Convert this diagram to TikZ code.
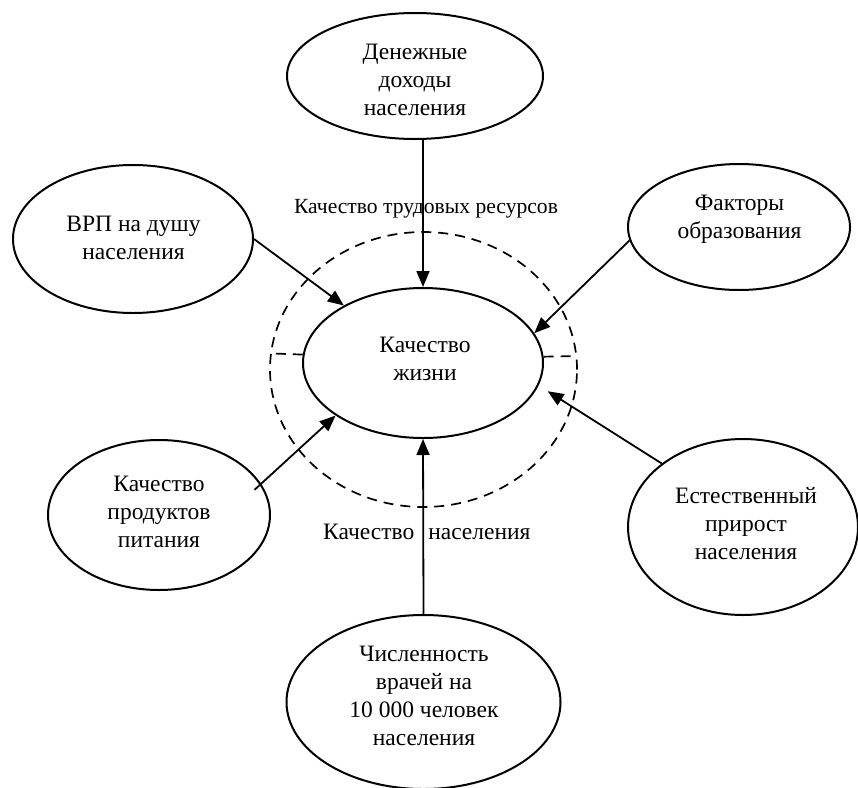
\documentclass[tikz,border=0pt]{standalone}
\usepackage{fontspec}
\setmainfont{Liberation Serif}
\usetikzlibrary{arrows.meta,shapes.geometric}
\begin{document}
\begin{tikzpicture}[x=1pt,y=-1pt,
  ell/.style={ellipse, draw, line width=2pt, inner sep=0pt},
  txt/.style={align=center, font=\fontsize{23.5pt}{28pt}\selectfont, inner sep=0pt},
  lbl/.style={inner sep=0pt},
  arr/.style={line width=1.8pt, -{Triangle[length=16pt,width=13pt]}},
  dline/.style={line width=1.7pt, dash pattern=on 10pt off 7pt}]
\useasboundingbox (0,0) rectangle (858,787);
% dashed ring
\node[ellipse, draw, dline, inner sep=0pt, minimum width=307pt, minimum height=275pt] (ring) at (423.5,369.5) {};
% ellipses
\node[ell, minimum width=256pt, minimum height=126pt] (t) at (415,76) {};
\node[ell, minimum width=240pt, minimum height=148pt] (a) at (133,239) {};
\node[ell, minimum width=222pt, minimum height=126pt] (f) at (739,227) {};
\node[ell, minimum width=240pt, minimum height=150pt] (c) at (423,363) {};
\node[ell, minimum width=222pt, minimum height=150pt] (p) at (159,515) {};
\node[ell, minimum width=230pt, minimum height=176pt] (e) at (743,527) {};
\node[ell, minimum width=274pt, minimum height=174pt] (b) at (423.5,702) {};
% texts
\node[txt] (tt) at (415,80) {Денежные\\доходы\\населения};
\node[txt] (at) at (133.5,237.5) {ВРП на душу\\населения};
\node[txt] (ft) at (739.5,219) {Факторы\\образования};
\node[txt] (ct) at (425,359) {Качество\\жизни};
\node[txt] (pt) at (159,512) {Качество\\продуктов\\питания};
\node[txt] (et) at (746,523.5) {Естественный\\прирост\\населения};
\node[txt] (bt) at (424,696) {Численность\\врачей на\\10 000 человек\\населения};
% labels
\node[lbl, font=\fontsize{21.6pt}{26pt}\selectfont, anchor=base] (l1) at (426,213) {Качество трудовых ресурсов};
\node[lbl, font=\fontsize{23.5pt}{28pt}\selectfont, anchor=base west] (l2) at (323,539) {Качество\hspace{14pt}населения};
% dashed dividers
\draw[dline] (c.176.65) -- (ring.174.95);
\draw[dline] (c.3.35) -- (ring.5.05);
% arrows
\draw[arr] (t.south -| c.north) -- (c.north);
\draw[arr] (a.east) -- (c.144.4);
\draw[arr] (f.187) -- (c.15.5);
\draw[arr, shorten <=-9pt] (p.17.5) -- (c.211.1);
\draw[arr, shorten >=10.7pt] (e.142.6) -- (c.-11.55);
\draw[arr] (b.north) -- (c.south);
\end{tikzpicture}
\end{document}
